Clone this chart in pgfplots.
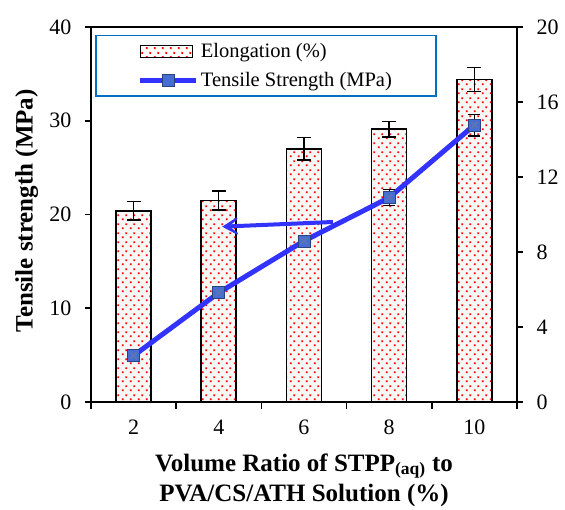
\documentclass[border=0pt]{standalone}
\usepackage{fontspec}
\setmainfont{Liberation Serif}
\usepackage{pgfplots}
\pgfplotsset{compat=1.18}
\usetikzlibrary{patterns.meta,arrows.meta}

\definecolor{tsblue}{RGB}{51,51,255}
\definecolor{mkblue}{RGB}{70,110,210}
\definecolor{legbox}{RGB}{0,112,192}

\tikzdeclarepattern{
  name=reddots,
  type=uncolored,
  bounding box={(0,0) and (8pt,9pt)},
  tile size={(8pt,9pt)},
  code={
    \fill (2pt,2pt) rectangle (4pt,4pt);
    \fill (6pt,6.5pt) rectangle (8pt,8.5pt);
  }
}

% elongation (left axis) and tensile strength (right axis)
\pgfplotstableread{
x  elong  eerr
1  20.4   1.0
2  21.5   1.0
3  27.0   1.2
4  29.1   0.85
5  34.4   1.25
}\elongdata
\pgfplotstableread{
x  ts     terr
1  2.47   0.0
2  5.83   0.0
3  8.59   0.0
4  10.9   0.43
5  14.77  0.58
}\tsdata

\pgfplotsset{
  common/.style={
    scale only axis, width=426pt, height=375pt,
    at={(91pt,108pt)}, anchor=south west,
    xmin=0.5, xmax=5.5,
    axis line style={line width=1.6pt},
    tick style={line width=1.6pt, black},
    tick align=outside,
    major tick length=6pt,
    /pgf/number format/assume math mode=true,
    tick label style={font=\fontsize{22}{22}\selectfont},
  },
  longline/.style={legend image code/.code={
    \draw[##1, mark repeat=2, mark phase=2] plot coordinates {(0pt,0pt) (28pt,0pt) (56pt,0pt)};}},
  dotbox/.style={legend image code/.code={
    \draw[line width=1.4pt, fill=white, postaction={pattern=reddots, pattern color=red}]
      (0pt,-6pt) rectangle (52pt,6pt);}},
}

\begin{document}
\begin{tikzpicture}
\useasboundingbox (0,0) rectangle (565pt,510pt);
\begin{axis}[common,
  ymin=0, ymax=40, ytick={0,10,...,40}, ytick pos=left,
  yticklabel style={xshift=-10pt},
  xtick={1,...,5}, xticklabels={2,4,6,8,10}, xtick pos=bottom,
  xticklabel style={yshift=-8pt},
  minor xtick={0.5,1.5,...,5.5},
  every major x tick/.style={draw=none},
  minor tick length=7pt,
  every minor tick/.style={line width=1.6pt, black},
  ylabel={\textbf{Tensile strength (MPa)}},
  every axis y label/.style={at={(axis description cs:-0.151,0.51)}, rotate=90, anchor=center,
    font=\fontsize{25}{25}\selectfont},
  xlabel={\textbf{Volume Ratio of STPP\textsubscript{(aq)} to}\\\textbf{PVA/CS/ATH Solution (\%)}},
  every axis x label/.style={at={(axis description cs:0.5,-0.128)}, anchor=north,
    font=\fontsize{25}{30}\selectfont, align=center},
  ybar, bar width=35pt,
]
\addplot[draw=black, line width=1.6pt, fill=black!3,
  postaction={pattern=reddots, pattern color=red},
  error bars/.cd, y dir=both, y explicit,
  error bar style={line width=1.4pt, black},
  error mark options={rotate=90, mark size=7pt, line width=1.4pt, black}]
  table[x=x, y=elong, y error=eerr] {\elongdata};
\draw[-{Stealth[length=24pt, width=28pt, inset=17pt]}, line width=4pt, tsblue]
  (axis cs:3.34,19.2) -- (axis cs:2.04,18.7);
\end{axis}

\begin{axis}[common,
  ymin=0, ymax=20, ytick={0,4,...,20},
  yticklabel style={xshift=10pt},
  axis y line*=right, axis x line=none,
  legend style={at={(0.01,0.979)}, anchor=north west, draw=legbox,
    line width=1.3pt, font=\fontsize{20.5}{24}\selectfont,
    inner xsep=42pt, inner ysep=6pt, row sep=9pt,
    /tikz/every even column/.append style={column sep=3pt}},
  legend cell align=left,
]
\addlegendimage{dotbox}
\addlegendentry{Elongation (\%)}
\addplot[tsblue, line width=5pt, mark=square*, mark size=6pt,
  mark options={fill=mkblue, draw=mkblue!60!black, line width=0.8pt},
  longline,
  error bars/.cd, y dir=both, y explicit,
  error bar style={line width=1.2pt, black},
  error mark options={rotate=90, mark size=6pt, line width=1.2pt, black},
  ]
  table[x=x, y=ts, y error=terr] {\tsdata};
\addlegendentry{Tensile Strength (MPa)}
\addplot[forget plot, only marks, mark=x, mark size=4.5pt,
  mark options={draw=mkblue!60!gray, line width=1.5pt}]
  table[x=x, y=ts] {\tsdata};
\end{axis}
\end{tikzpicture}
\end{document}
